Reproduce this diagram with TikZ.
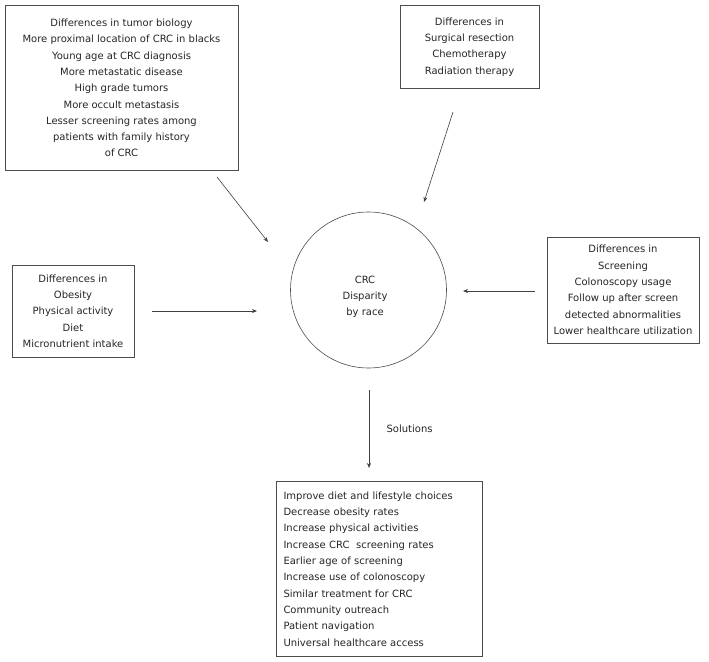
\documentclass[tikz,border=0pt]{standalone}
\usepackage{fontspec}
\setmainfont{DejaVu Sans}
\usetikzlibrary{arrows.meta}
\begin{document}
\begin{tikzpicture}[x=1pt,y=-1pt,
  txt/.style={font=\fontsize{10}{16.3}\selectfont, text=black!85},
  box/.style={txt, draw=black!70, line width=1pt, align=center, inner sep=0pt},
  conn/.style={draw=black!75, line width=0.6pt, -{Stealth[length=5pt,width=4pt]}}]
\useasboundingbox (0,0) rectangle (709,661);
\fill[white] (0,0) rectangle (709,661);

\node[box, minimum width=233, minimum height=164] (bio) at (121.5,88)
  {Differences in tumor biology\\More proximal location of CRC in blacks\\Young age at CRC diagnosis\\More metastatic disease\\High grade tumors\\More occult metastasis\\Lesser screening rates among\\patients with family history\\of CRC};

\node[box, minimum width=139, minimum height=82] (treat) at (469.5,47)
  {Differences in\\Surgical resection\\Chemotherapy\\Radiation therapy};

\node[box, minimum width=122, minimum height=92] (life) at (73,311)
  {Differences in\\Obesity\\Physical activity\\Diet\\Micronutrient intake};

\node[box, minimum width=152, minimum height=106] (screen) at (623,290)
  {Differences in\\Screening\\Colonoscopy usage\\Follow up after screen\\detected abnormalities\\Lower healthcare utilization};

\node[draw=black!70, line width=0.6pt, circle, minimum size=156, inner sep=0pt] (crc) at (368.5,290) {};
\node[txt, align=center] (crctext) at (365,297) {CRC\\Disparity\\by race};

\node[txt, draw=black!70, line width=1pt, align=left, anchor=north west,
      minimum width=206, minimum height=175, text width=192, inner sep=0pt,
      inner xsep=7pt] (sol) at (276,481)
  {Improve diet and lifestyle choices\\Decrease obesity rates\\Increase physical activities\\Increase CRC\ \ screening rates\\Earlier age of screening\\Increase use of colonoscopy\\Similar treatment for CRC\\Community outreach\\Patient navigation\\Universal healthcare access};

\coordinate (a1s) at (217,177);
\coordinate (a1e) at (268,242);
\coordinate (a2s) at (453,112);
\coordinate (a2e) at (424,202);
\coordinate (a3s) at (152,311);
\coordinate (a3e) at (257,311);
\coordinate (a4s) at (535,291);
\coordinate (a4e) at (463,291);
\coordinate (a5s) at (369,390);
\coordinate (a5e) at (369,468);

\draw[conn] (a1s) -- (a1e);
\draw[conn] (a2s) -- (a2e);
\draw[conn] (a3s) -- (a3e);
\draw[conn] (a4s) -- (a4e);
\draw[conn] (a5s) -- (a5e) node[txt, midway, right=14pt] (soll) {Solutions};
\end{tikzpicture}
\end{document}
